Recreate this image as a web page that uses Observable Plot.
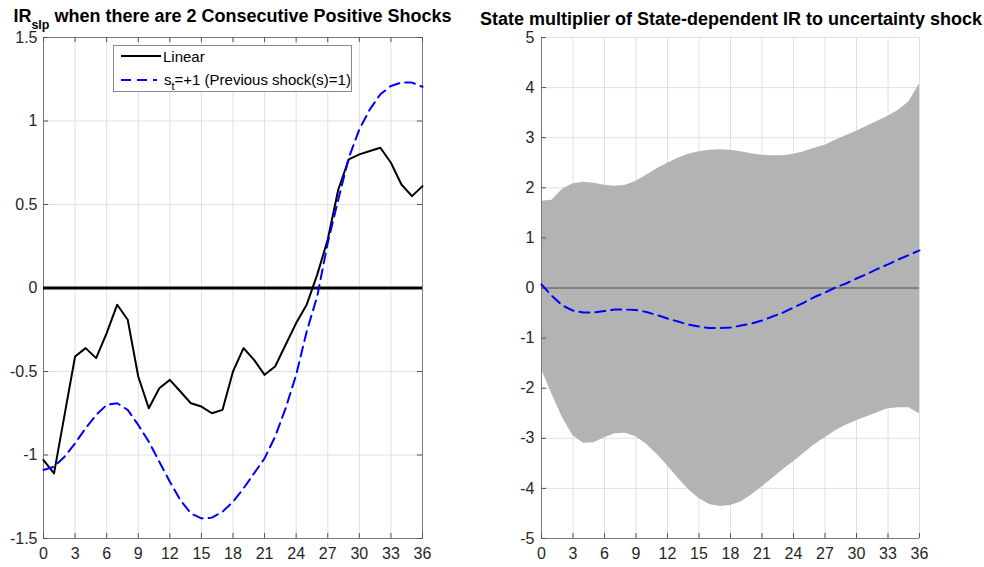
<!DOCTYPE html>
<html>
<head>
<meta charset="utf-8">
<script src="https://cdn.jsdelivr.net/npm/d3@7"></script>
<script src="https://cdn.jsdelivr.net/npm/@observablehq/plot@0.6"></script>
<style>
  html, body { margin: 0; padding: 0; background: #fff; }
  #root { position: relative; width: 984px; height: 567px; overflow: hidden; background: #fff;
          font-family: 'Liberation Sans', Arial, Helvetica, sans-serif; color: #000; }
  .plot { position: absolute; top: 0; }
  .title { position: absolute; font-weight: bold; font-size: 18px; line-height: 16px; height: 16px; text-align: center; white-space: nowrap; z-index: 2; }
  .title .sub { font-size: 12.5px; position: relative; top: 7px; line-height: 0; }
  #legend { position: absolute; left: 113px; top: 45px; width: 237px; height: 45px; border: 1px solid #8a8a8a; background: #fff; z-index: 3; }
  #legend .txt { position: absolute; font-size: 15px; line-height: 15px; white-space: nowrap; color: #000; }
  #legend .txt .s { font-size: 11px; position: relative; top: 5px; }
  #legend svg { position: absolute; left: 0; top: 0; }
</style>
</head>
<body>
<div id="root"></div>
<script>
// ---------- data ----------
const horizon = [0,1,2,3,4,5,6,7,8,9,10,11,12,13,14,15,16,17,18,19,20,21,22,23,24,25,26,27,28,29,30,31,32,33,34,35,36];

// Left panel: IR_slp, 2 consecutive positive shocks
const linearIR = [-1.03,-1.11,-0.76,-0.41,-0.36,-0.42,-0.27,-0.10,-0.19,-0.53,-0.72,-0.60,-0.55,-0.62,-0.69,-0.71,-0.75,-0.73,-0.50,-0.36,-0.43,-0.52,-0.47,-0.34,-0.21,-0.10,0.08,0.29,0.59,0.77,0.80,0.82,0.84,0.75,0.62,0.55,0.61];
const stateIR = [-1.09,-1.07,-1.01,-0.93,-0.84,-0.76,-0.70,-0.69,-0.73,-0.82,-0.92,-1.04,-1.16,-1.27,-1.35,-1.38,-1.375,-1.34,-1.28,-1.20,-1.11,-1.02,-0.89,-0.72,-0.52,-0.26,-0.05,0.27,0.53,0.78,0.95,1.07,1.16,1.21,1.23,1.23,1.205];

// Right panel: state multiplier with band
const multMean = [0.07,-0.16,-0.35,-0.45,-0.49,-0.49,-0.46,-0.43,-0.43,-0.44,-0.48,-0.54,-0.61,-0.67,-0.73,-0.77,-0.80,-0.80,-0.79,-0.75,-0.71,-0.65,-0.57,-0.49,-0.39,-0.29,-0.18,-0.09,0.01,0.09,0.19,0.28,0.38,0.47,0.57,0.66,0.75];
const multUpper = [1.73,1.75,1.97,2.08,2.11,2.09,2.05,2.03,2.05,2.13,2.25,2.38,2.49,2.59,2.67,2.72,2.75,2.76,2.75,2.72,2.68,2.65,2.64,2.64,2.67,2.72,2.79,2.85,2.95,3.04,3.13,3.23,3.33,3.43,3.55,3.72,4.07];
const multLower = [-1.62,-2.12,-2.59,-2.95,-3.10,-3.09,-2.99,-2.91,-2.90,-2.97,-3.12,-3.32,-3.55,-3.79,-4.02,-4.20,-4.32,-4.36,-4.34,-4.27,-4.13,-3.97,-3.80,-3.63,-3.47,-3.30,-3.13,-2.99,-2.85,-2.74,-2.65,-2.57,-2.49,-2.41,-2.39,-2.39,-2.51];

// ticks
const xTicks = [0,3,6,9,12,15,18,21,24,27,30,33,36];
const leftYTicks = [-1.5,-1,-0.5,0,0.5,1,1.5];
const rightYTicks = [-5,-4,-3,-2,-1,0,1,2,3,4,5];

// text
const leftTitleMain = "IR";
const leftTitleSub = "slp";
const leftTitleRest = " when there are 2 Consecutive Positive Shocks";
const rightTitle = "State multiplier of State-dependent IR to uncertainty shock";
const legendLinear = "Linear";
const legendStateMain = "s";
const legendStateSub = "t";
const legendStateRest = "=+1 (Previous shock(s)=1)";

// ---------- tables ----------
const leftRows = horizon.map((h, i) => ({h, linear: linearIR[i], state: stateIR[i]}));
const rightRows = horizon.map((h, i) => ({h, mean: multMean[i], lo: multLower[i], hi: multUpper[i]}));

const fmt = d => (d < 0 ? "-" : "") + Math.abs(d);
const FONT = "'Liberation Sans', Arial, Helvetica, sans-serif";
const baseStyle = {fontFamily: FONT, fontSize: "16px", color: "#262626", background: "transparent", overflow: "visible"};
const gridColor = "#e0e0e0";
const tickColor = "#555";

// ---------- left plot ----------
const lxTickLen = 0.48, lyTickLen = 0.03;
const left = Plot.plot({
  width: 440, height: 567,
  marginLeft: 43, marginRight: 18, marginTop: 37, marginBottom: 29,
  style: baseStyle,
  x: {domain: [0, 36], label: null},
  y: {domain: [-1.5, 1.5], label: null},
  marks: [
    Plot.ruleX(xTicks.slice(1, -1), {stroke: gridColor}),
    Plot.ruleY(leftYTicks.slice(1, -1), {stroke: gridColor}),
    Plot.frame({stroke: "#7a7a7a"}),
    Plot.ruleY(leftYTicks, {x1: 0, x2: lxTickLen, stroke: tickColor}),
    Plot.ruleY(leftYTicks, {x1: 36 - lxTickLen, x2: 36, stroke: tickColor}),
    Plot.ruleX(xTicks, {y1: -1.5, y2: -1.5 + lyTickLen, stroke: tickColor}),
    Plot.ruleX(xTicks, {y1: 1.5 - lyTickLen, y2: 1.5, stroke: tickColor}),
    Plot.axisX({ticks: xTicks, tickSize: 0, tickPadding: 9, tickFormat: fmt, label: null}),
    Plot.axisY({ticks: leftYTicks, tickSize: 0, tickPadding: 6, tickFormat: fmt, label: null}),
    Plot.ruleY([0], {stroke: "#000", strokeWidth: 3}),
    Plot.line(leftRows, {x: "h", y: "linear", stroke: "#000", strokeWidth: 2}),
    Plot.line(leftRows, {x: "h", y: "state", stroke: "#0000ff", strokeWidth: 2, strokeDasharray: "10,6"})
  ]
});
left.classList.add("plot");
left.style.left = "0px";

// ---------- right plot ----------
const rxTickLen = 0.48, ryTickLen = 0.1;
const right = Plot.plot({
  width: 504, height: 567,
  marginLeft: 61, marginRight: 65, marginTop: 37, marginBottom: 29,
  style: baseStyle,
  x: {domain: [0, 36], label: null},
  y: {domain: [-5, 5], label: null},
  marks: [
    Plot.ruleX(xTicks, {stroke: gridColor}),
    Plot.ruleY(rightYTicks, {stroke: gridColor}),
    Plot.areaY(rightRows, {x: "h", y1: "lo", y2: "hi", fill: "#b3b3b3"}),
    Plot.ruleX([0], {stroke: "#7a7a7a"}),
    Plot.ruleY([-5], {stroke: "#7a7a7a"}),
    Plot.ruleY(rightYTicks, {x1: 0, x2: rxTickLen, stroke: tickColor}),
    Plot.ruleX(xTicks, {y1: -5, y2: -5 + ryTickLen, stroke: tickColor}),
    Plot.axisX({ticks: xTicks, tickSize: 0, tickPadding: 9, tickFormat: fmt, label: null}),
    Plot.axisY({ticks: rightYTicks, tickSize: 0, tickPadding: 7, tickFormat: fmt, label: null}),
    Plot.ruleY([0], {stroke: "#4d4d4d", strokeWidth: 1}),
    Plot.line(rightRows, {x: "h", y: "mean", stroke: "#0000ff", strokeWidth: 2, strokeDasharray: "10,6"})
  ]
});
right.classList.add("plot");
right.style.left = "480px";

const root = document.getElementById("root");
root.appendChild(left);
root.appendChild(right);

// ---------- titles ----------
const t1 = document.createElement("div");
t1.className = "title";
t1.style.left = "0px"; t1.style.width = "465px"; t1.style.top = "8px";
t1.innerHTML = `${leftTitleMain}<span class="sub">${leftTitleSub}</span>${leftTitleRest}`;
root.appendChild(t1);

const t2 = document.createElement("div");
t2.className = "title";
t2.style.left = "480px"; t2.style.width = "500px"; t2.style.top = "11px";
t2.textContent = rightTitle;
root.appendChild(t2);

// ---------- legend ----------
const lg = document.createElement("div");
lg.id = "legend";
lg.innerHTML = `
  <svg width="60" height="45">
    <line x1="7" x2="47" y1="10" y2="10" stroke="#000" stroke-width="2"/>
    <line x1="7" x2="43" y1="34" y2="34" stroke="#0000ff" stroke-width="2" stroke-dasharray="10,6"/>
  </svg>
  <div class="txt" style="left:49px; top:3px;">${legendLinear}</div>
  <div class="txt" style="left:50px; top:26px;">${legendStateMain}<span class="s">${legendStateSub}</span>${legendStateRest}</div>`;
root.appendChild(lg);
</script>
</body>
</html>
